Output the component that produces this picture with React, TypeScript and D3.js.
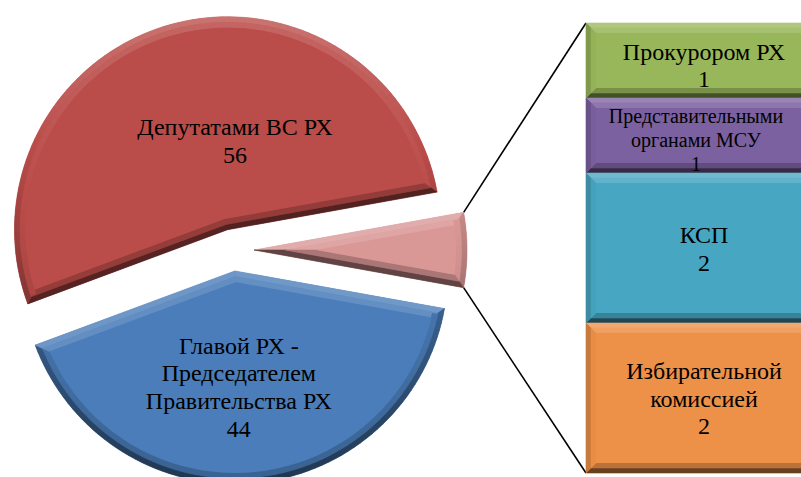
import React from 'react';
import * as d3 from 'd3';

// ---------- data ----------
const pieNameLines: string[][] = [
  ['Главой РХ -', 'Председателем', 'Правительства РХ'],
  ['Депутатами ВС РХ'],
];
const pieValues: number[] = [44, 56];
const pieColors: string[] = ['#4A7DB9', '#BA4C49'];
const otherColor = '#D99795';

const barNameLines: string[][] = [
  ['Прокурором РХ'],
  ['Представительными', 'органами МСУ'],
  ['КСП'],
  ['Избирательной', 'комиссией'],
];
const barValues: number[] = [1, 1, 2, 2];
const barColors: string[] = ['#98B75A', '#7C61A0', '#47A6C1', '#EE9148'];

// ---------- layout ----------
const W = 801;
const H = 477;
const CX = 233;
const CY = 250;
const R = 213;
const EXPLODE = 21;
const PIE_BEVEL = 11;
const BAR_BEVEL = 10;
const BAR_X0 = 586;
const BAR_X1 = 822;
const BAR_TOP = 23;
const BAR_BOTTOM = 473;
const FONT = '"Times New Roman", "Liberation Serif", serif';
// label anchors (offset of text block centre from exploded slice centre)
const pieLabelOffsets = [
  { dx: 4, dy: 115.5 },
  { dx: 7.5, dy: -89.5 },
];
const barLabelNudge = [4, 4, 0, 0];

type Pt = [number, number];

const Lraw = [0, -0.8, 0.6];
const Llen = Math.hypot(Lraw[0], Lraw[1], Lraw[2]);
const L = Lraw.map((v) => v / Llen);

function shade(base: string, n: Pt, tilt: number): string {
  const st = Math.sin(tilt);
  const ct = Math.cos(tilt);
  const N = [n[0] * st, n[1] * st, ct];
  const s = N[0] * L[0] + N[1] * L[1] + N[2] * L[2] - L[2];
  if (s > 0) return d3.interpolateRgb(base, '#ffffff')(Math.min(1, s * 0.55));
  return d3.interpolateRgb(base, '#000000')(Math.min(1, -s * 0.62));
}

function signedArea(p: Pt[]): number {
  let a = 0;
  for (let i = 0; i < p.length; i++) {
    const q = p[(i + 1) % p.length];
    a += p[i][0] * q[1] - q[0] * p[i][1];
  }
  return a;
}

function edgeNormals(p: Pt[]): Pt[] {
  const sgn = signedArea(p) > 0 ? 1 : -1;
  return p.map((a, i) => {
    const b = p[(i + 1) % p.length];
    const dx = b[0] - a[0];
    const dy = b[1] - a[1];
    const len = Math.hypot(dx, dy) || 1;
    // inward normal
    return [(-dy / len) * sgn, (dx / len) * sgn] as Pt;
  });
}

function inset(p: Pt[], b: number): Pt[] {
  const ns = edgeNormals(p);
  const n = p.length;
  return p.map((pt, i) => {
    const n1 = ns[(i - 1 + n) % n];
    const n2 = ns[i];
    const dot = n1[0] * n2[0] + n1[1] * n2[1];
    const k = b / (1 + dot);
    return [pt[0] + (n1[0] + n2[0]) * k, pt[1] + (n1[1] + n2[1]) * k] as Pt;
  });
}

const toPath = (p: Pt[]) => 'M' + p.map((q) => q[0].toFixed(2) + ',' + q[1].toFixed(2)).join('L') + 'Z';

function Bevel({ poly, color, b }: { poly: Pt[]; color: string; b: number }) {
  const mid = inset(poly, b * 0.5);
  const inner = inset(poly, b);
  const ns = edgeNormals(poly);
  const n = poly.length;
  const quads: { d: string; c: string }[] = [];
  for (let i = 0; i < n; i++) {
    const j = (i + 1) % n;
    const out: Pt = [-ns[i][0], -ns[i][1]];
    const c1 = shade(color, out, (55 * Math.PI) / 180);
    const c2 = shade(color, out, (22 * Math.PI) / 180);
    quads.push({ d: toPath([poly[i], poly[j], mid[j], mid[i]]), c: c1 });
    quads.push({ d: toPath([mid[i], mid[j], inner[j], inner[i]]), c: c2 });
  }
  return (
    <g>
      <path d={toPath(poly)} fill={color} />
      {quads.map((q, k) => (
        <path key={k} d={q.d} fill={q.c} stroke={q.c} strokeWidth={0.6} strokeLinejoin="round" />
      ))}
      <path d={toPath(inner)} fill={color} />
    </g>
  );
}

function TextBlock({ x, y, lines, size, spacing }: { x: number; y: number; lines: string[]; size: number; spacing: number }) {
  const n = lines.length;
  return (
    <text x={x} textAnchor="middle" fontFamily={FONT} fontSize={size} fill="#000">
      {lines.map((t, i) => (
        <tspan key={i} x={x} y={y + (i - (n - 1) / 2) * spacing + size * 0.37}>
          {t}
        </tspan>
      ))}
    </text>
  );
}

export default function App() {
  const otherValue = d3.sum(barValues);
  const total = d3.sum(pieValues) + otherValue;
  const half = (Math.PI * otherValue) / total;

  const pieData = [
    { value: otherValue, color: otherColor, idx: -1 },
    ...pieValues.map((v, i) => ({ value: v, color: pieColors[i], idx: i })),
  ];
  const arcs = d3
    .pie<any>()
    .sort(null)
    .value((d: any) => d.value)
    .startAngle(Math.PI / 2 - half)
    .endAngle(Math.PI / 2 - half + 2 * Math.PI)(pieData);

  const slices = arcs.map((a) => {
    const mid = (a.startAngle + a.endAngle) / 2;
    const cx = CX + EXPLODE * Math.sin(mid);
    const cy = CY - EXPLODE * Math.cos(mid);
    const steps = Math.max(4, Math.ceil(((a.endAngle - a.startAngle) * 180) / Math.PI / 2));
    const pts: Pt[] = [[cx, cy]];
    d3.range(steps + 1).forEach((k) => {
      const t = a.startAngle + ((a.endAngle - a.startAngle) * k) / steps;
      pts.push([cx + R * Math.sin(t), cy - R * Math.cos(t)]);
    });
    return { a, cx, cy, pts, data: a.data as any };
  });

  const other = slices[0];
  const topCorner = other.pts[1];
  const botCorner = other.pts[other.pts.length - 1];

  const yScale = d3.scaleLinear().domain([0, otherValue]).range([BAR_TOP, BAR_BOTTOM]);
  const cum = [0, ...Array.from(d3.cumsum(barValues))];

  return (
    <svg width={W} height={H} style={{ position: 'fixed', left: 0, top: 0, display: 'block', background: '#fff' }}>
      <rect width={W} height={H} fill="#fff" />
      <line x1={topCorner[0]} y1={topCorner[1]} x2={BAR_X0} y2={yScale(0)} stroke="#000" strokeWidth={1.6} />
      <line x1={botCorner[0]} y1={botCorner[1]} x2={BAR_X0} y2={yScale(otherValue)} stroke="#000" strokeWidth={1.6} />
      {slices.map((s, i) => (
        <Bevel key={i} poly={s.pts} color={s.data.color} b={PIE_BEVEL} />
      ))}
      {slices.slice(1).map((s, i) => {
        const idx = s.data.idx;
        const off = pieLabelOffsets[idx];
        return (
          <TextBlock
            key={'pl' + i}
            x={s.cx + off.dx}
            y={s.cy + off.dy}
            lines={[...pieNameLines[idx], String(pieValues[idx])]}
            size={24}
            spacing={27.6}
          />
        );
      })}
      {barValues.map((v, i) => {
        const y0 = yScale(cum[i]);
        const y1 = yScale(cum[i + 1]);
        const poly: Pt[] = [
          [BAR_X0, y0],
          [BAR_X1, y0],
          [BAR_X1, y1],
          [BAR_X0, y1],
        ];
        return <Bevel key={'b' + i} poly={poly} color={barColors[i]} b={BAR_BEVEL} />;
      })}
      {barValues.map((v, i) => {
        const y0 = yScale(cum[i]);
        const y1 = yScale(cum[i + 1]);
        const lines = [...barNameLines[i], String(v)];
        const longest = d3.max(lines, (t) => t.length) || 0;
        const tight = longest > 15;
        return (
          <TextBlock
            key={'bl' + i}
            x={tight ? 696 : 704}
            y={(y0 + y1) / 2 + barLabelNudge[i]}
            lines={lines}
            size={tight ? 20 : 24}
            spacing={tight ? 24 : 27.6}
          />
        );
      })}
    </svg>
  );
}
